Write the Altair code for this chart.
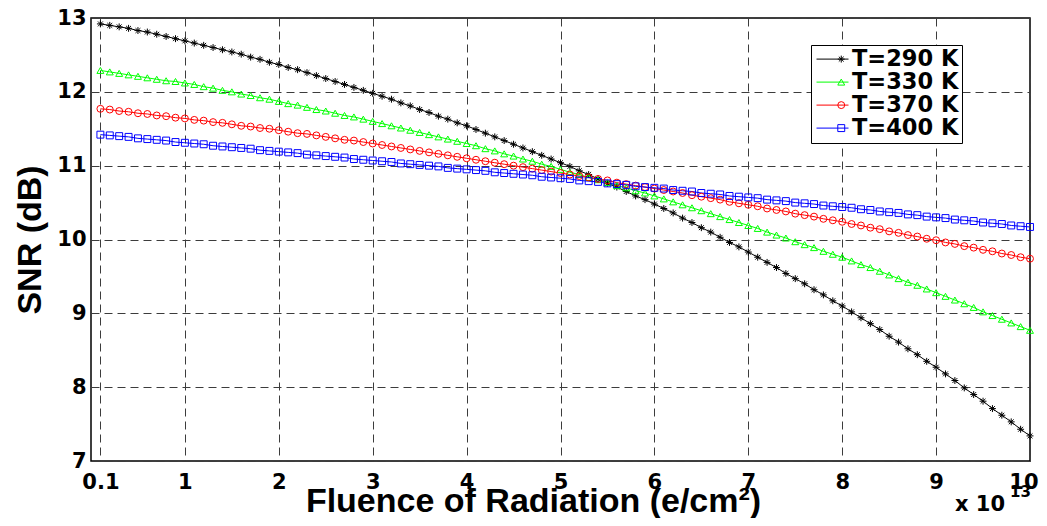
import altair as alt
import pandas as pd

# x positions of the samples (x 10^13 e/cm^2)
fluence = [0.1, 0.2, 0.3, 0.4, 0.5, 0.6, 0.7, 0.8, 0.9, 1.0,
           1.1, 1.2, 1.3, 1.4, 1.5, 1.6, 1.7, 1.8, 1.9, 2.0,
           2.1, 2.2, 2.3, 2.4, 2.5, 2.6, 2.7, 2.8, 2.9, 3.0,
           3.1, 3.2, 3.3, 3.4, 3.5, 3.6, 3.7, 3.8, 3.9, 4.0,
           4.1, 4.2, 4.3, 4.4, 4.5, 4.6, 4.7, 4.8, 4.9, 5.0,
           5.1, 5.2, 5.3, 5.4, 5.5, 5.6, 5.7, 5.8, 5.9, 6.0,
           6.1, 6.2, 6.3, 6.4, 6.5, 6.6, 6.7, 6.8, 6.9, 7.0,
           7.1, 7.2, 7.3, 7.4, 7.5, 7.6, 7.7, 7.8, 7.9, 8.0,
           8.1, 8.2, 8.3, 8.4, 8.5, 8.6, 8.7, 8.8, 8.9, 9.0,
           9.1, 9.2, 9.3, 9.4, 9.5, 9.6, 9.7, 9.8, 9.9, 10.0]

snr_290 = [12.92, 12.90, 12.88, 12.86, 12.83, 12.81, 12.78, 12.75, 12.72, 12.69,
           12.66, 12.63, 12.60, 12.57, 12.54, 12.51, 12.47, 12.44, 12.40, 12.37,
           12.33, 12.30, 12.26, 12.22, 12.18, 12.14, 12.10, 12.06, 12.02, 11.98,
           11.94, 11.90, 11.85, 11.81, 11.76, 11.72, 11.67, 11.63, 11.58, 11.54,
           11.49, 11.44, 11.39, 11.34, 11.29, 11.24, 11.19, 11.14, 11.09, 11.04,
           10.99, 10.93, 10.88, 10.82, 10.76, 10.71, 10.65, 10.59, 10.54, 10.48,
           10.42, 10.36, 10.29, 10.23, 10.16, 10.10, 10.03, 9.96, 9.90, 9.83,
           9.76, 9.69, 9.62, 9.54, 9.47, 9.40, 9.32, 9.25, 9.17, 9.10,
           9.02, 8.94, 8.86, 8.78, 8.69, 8.61, 8.52, 8.44, 8.35, 8.27,
           8.18, 8.09, 7.99, 7.90, 7.81, 7.71, 7.62, 7.53, 7.43, 7.34]

snr_330 = [12.29, 12.27, 12.25, 12.23, 12.21, 12.19, 12.17, 12.15, 12.14, 12.12,
           12.10, 12.07, 12.05, 12.02, 12.00, 11.97, 11.95, 11.92, 11.90, 11.87,
           11.84, 11.82, 11.79, 11.76, 11.74, 11.71, 11.68, 11.66, 11.63, 11.60,
           11.57, 11.54, 11.51, 11.48, 11.45, 11.42, 11.39, 11.36, 11.33, 11.30,
           11.27, 11.23, 11.20, 11.16, 11.13, 11.09, 11.06, 11.02, 10.99, 10.95,
           10.91, 10.88, 10.84, 10.81, 10.77, 10.73, 10.70, 10.66, 10.63, 10.59,
           10.55, 10.51, 10.47, 10.43, 10.39, 10.35, 10.31, 10.27, 10.23, 10.19,
           10.15, 10.10, 10.06, 10.02, 9.97, 9.93, 9.89, 9.84, 9.80, 9.76,
           9.71, 9.66, 9.62, 9.57, 9.52, 9.47, 9.42, 9.38, 9.33, 9.28,
           9.23, 9.18, 9.13, 9.08, 9.02, 8.97, 8.92, 8.87, 8.82, 8.77]

snr_370 = [11.77, 11.76, 11.74, 11.73, 11.71, 11.70, 11.68, 11.67, 11.65, 11.64,
           11.62, 11.61, 11.59, 11.58, 11.56, 11.54, 11.53, 11.51, 11.50, 11.48,
           11.46, 11.44, 11.43, 11.41, 11.39, 11.37, 11.35, 11.34, 11.32, 11.30,
           11.28, 11.26, 11.24, 11.22, 11.20, 11.18, 11.16, 11.14, 11.12, 11.10,
           11.08, 11.06, 11.04, 11.02, 11.00, 10.98, 10.96, 10.94, 10.92, 10.90,
           10.88, 10.86, 10.84, 10.82, 10.80, 10.77, 10.75, 10.73, 10.71, 10.69,
           10.67, 10.65, 10.63, 10.60, 10.58, 10.56, 10.54, 10.51, 10.49, 10.47,
           10.45, 10.42, 10.40, 10.38, 10.35, 10.33, 10.31, 10.28, 10.26, 10.24,
           10.21, 10.19, 10.16, 10.14, 10.11, 10.09, 10.06, 10.04, 10.01, 9.99,
           9.96, 9.94, 9.91, 9.89, 9.86, 9.84, 9.81, 9.79, 9.76, 9.74]

snr_400 = [11.42, 11.41, 11.40, 11.39, 11.37, 11.36, 11.35, 11.34, 11.32, 11.31,
           11.30, 11.29, 11.27, 11.26, 11.25, 11.24, 11.23, 11.21, 11.20, 11.19,
           11.18, 11.17, 11.15, 11.14, 11.13, 11.12, 11.11, 11.09, 11.08, 11.07,
           11.06, 11.05, 11.03, 11.02, 11.01, 11.00, 10.99, 10.97, 10.96, 10.95,
           10.94, 10.93, 10.91, 10.90, 10.89, 10.88, 10.87, 10.85, 10.84, 10.83,
           10.82, 10.80, 10.79, 10.78, 10.76, 10.75, 10.74, 10.72, 10.71, 10.70,
           10.69, 10.67, 10.66, 10.65, 10.63, 10.62, 10.61, 10.59, 10.58, 10.57,
           10.56, 10.54, 10.53, 10.52, 10.50, 10.49, 10.48, 10.46, 10.45, 10.44,
           10.43, 10.41, 10.40, 10.38, 10.37, 10.36, 10.34, 10.33, 10.31, 10.30,
           10.29, 10.27, 10.26, 10.25, 10.23, 10.22, 10.21, 10.19, 10.18, 10.17]

series_labels = ["T=290 K", "T=330 K", "T=370 K", "T=400 K"]
series_colors = ["#000000", "#00ff00", "#ff0000", "#0000ff"]
asterisk = "M-1,0L1,0M0,-1L0,1M-0.7,-0.7L0.7,0.7M-0.7,0.7L0.7,-0.7"
series_shapes = [asterisk, "triangle-up", "circle", "square"]

x_ticks = [0.1, 1, 2, 3, 4, 5, 6, 7, 8, 9, 10]
y_ticks = [7, 8, 9, 10, 11, 12, 13]
x_title = "Fluence of Radiation (e/cm²)"
y_title = "SNR (dB)"
exponent_text = ["x 10", "13"]

rows = []
for lab, vals in zip(series_labels, [snr_290, snr_330, snr_370, snr_400]):
    for xv, yv in zip(fluence, vals):
        rows.append({"fluence": xv, "snr": yv, "series": lab, "marker": lab})
df = pd.DataFrame(rows)

BOLD_FONT = "DejaVu Sans"
TITLE_FONT = "Liberation Sans"

x_enc = alt.X(
    "fluence:Q",
    scale=alt.Scale(domain=[0, 10], nice=False, zero=False),
    axis=alt.Axis(
        values=x_ticks, format=".1~f", grid=True, gridDash=[8, 5], gridColor="#3c3c3c",
        gridWidth=1, ticks=False, domain=False, labelFlush=True, labelFlushOffset=8,
        labelOverlap=False,
        labelFont=BOLD_FONT, labelFontWeight="bold", labelFontSize=21, labelColor="black",
        labelPadding=10, title=x_title, titleFont=TITLE_FONT, titleFontWeight="bold",
        titleFontSize=34, titleColor="black", titleX=442, titleY=50,
        titleAlign="center", titleBaseline="alphabetic",
    ),
)
y_enc = alt.Y(
    "snr:Q",
    scale=alt.Scale(domain=[7, 13], nice=False, zero=False),
    axis=alt.Axis(
        values=y_ticks, grid=True, gridDash=[8, 5], gridColor="#3c3c3c", gridWidth=1,
        ticks=False, domain=False, labelFlush=False, labelOverlap=False,
        labelFont=BOLD_FONT, labelFontWeight="bold", labelFontSize=21, labelColor="black",
        labelPadding=5, title=y_title, titleFont=TITLE_FONT, titleFontWeight="bold",
        titleFontSize=34, titleColor="black", titleX=-51, titleY=221.5, titleAngle=270,
        titleAlign="center", titleBaseline="alphabetic",
    ),
)

LX, LY = 720, 27
ROW_H = 22.2
LEG_FONT = 22.5
line_legend = alt.Legend(
    orient="none", legendX=LX, legendY=LY, title=None, padding=3, rowPadding=0,
    clipHeight=ROW_H,
    symbolType="stroke", symbolSize=1024, symbolStrokeWidth=1, symbolOffset=2,
    labelOffset=3, labelFont=BOLD_FONT, labelFontWeight="bold", labelFontSize=LEG_FONT,
    labelColor="black", strokeColor="black", fillColor="white", cornerRadius=0,
)
marker_legend = alt.Legend(
    orient="none", legendX=LX, legendY=LY, title=None, padding=3, rowPadding=0,
    clipHeight=ROW_H,
    symbolSize=48, symbolStrokeWidth=1, symbolOffset=16, labelOffset=4,
    labelFont=BOLD_FONT, labelFontWeight="bold", labelFontSize=LEG_FONT, labelOpacity=0,
)

lines = alt.Chart(df).mark_line(strokeWidth=1).encode(
    x=x_enc, y=y_enc,
    color=alt.Color("series:N", scale=alt.Scale(domain=series_labels, range=series_colors),
                    legend=line_legend),
)
points = alt.Chart(df).mark_point(filled=False, size=48, strokeWidth=1, opacity=1).encode(
    x=x_enc, y=y_enc,
    color=alt.Color("marker:N", scale=alt.Scale(domain=series_labels, range=series_colors),
                    legend=marker_legend),
    shape=alt.Shape("marker:N", scale=alt.Scale(domain=series_labels, range=series_shapes),
                    legend=marker_legend),
)

ann = pd.DataFrame({"t": exponent_text})
exp_base = alt.Chart(ann).transform_filter(alt.datum.t == exponent_text[0]).mark_text(
    font=BOLD_FONT, fontWeight="bold", fontSize=21, align="left", baseline="alphabetic",
    color="black").encode(x=alt.value(864), y=alt.value(493), text="t:N")
exp_sup = alt.Chart(ann).transform_filter(alt.datum.t == exponent_text[1]).mark_text(
    font=BOLD_FONT, fontWeight="bold", fontSize=15, align="left", baseline="alphabetic",
    color="black").encode(x=alt.value(919), y=alt.value(479), text="t:N")

chart = (
    alt.layer(lines, points, exp_base, exp_sup)
    .resolve_scale(color="independent", shape="independent")
    .resolve_legend(color="independent", shape="independent")
    .properties(width=939, height=443, autosize="none",
                padding={"left": 83, "top": 10, "right": 9, "bottom": 57},
                background="white")
    .configure_view(stroke="black", strokeWidth=1.5)
)

chart.save("out.html", embed_options={"renderer": "svg", "actions": False})
